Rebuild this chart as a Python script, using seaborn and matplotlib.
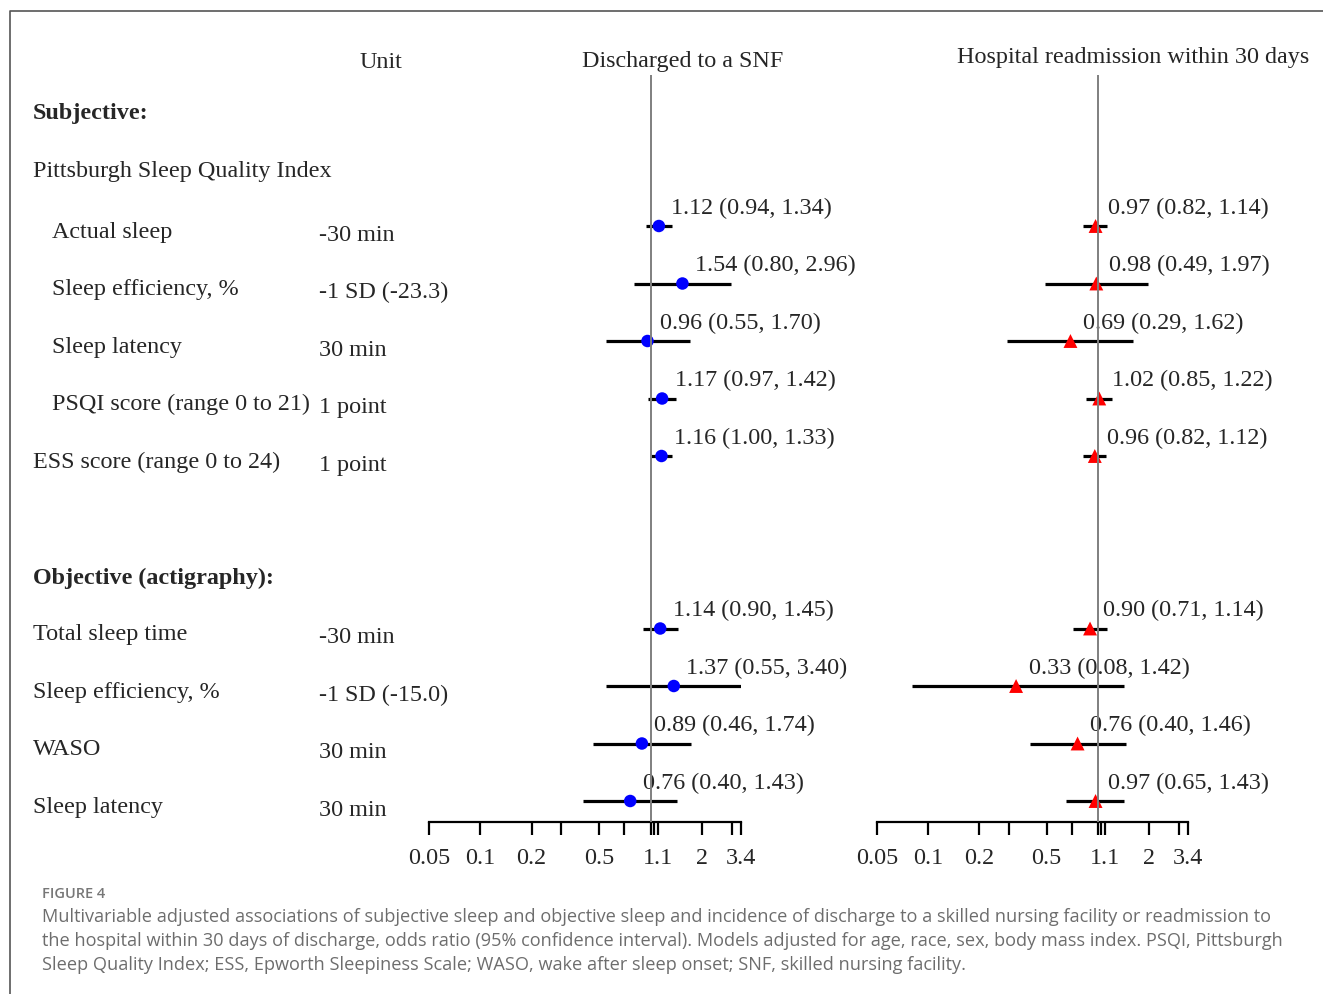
import numpy as np
import pandas as pd
import matplotlib.pyplot as plt
import seaborn as sns
from matplotlib.lines import Line2D
from matplotlib import transforms

# rijen (y = rijnummer), labels en eenheden
labels = ["Actual sleep", "Sleep efficiency, %", "Sleep latency",
          "PSQI score (range 0 to 21)", "ESS score (range 0 to 24)",
          "Total sleep time", "Sleep efficiency, %", "WASO", "Sleep latency"]
units = ["-30 min", "-1 SD (-23.3)", "30 min", "1 point", "1 point",
         "-30 min", "-1 SD (-15.0)", "30 min", "30 min"]
indented = [True, True, True, True, False, False, False, False, False]
rows = [2, 3, 4, 5, 6, 9, 10, 11, 12]

# Discharged to a SNF
snf_or = [1.12, 1.54, 0.96, 1.17, 1.16, 1.14, 1.37, 0.89, 0.76]
snf_lo = [0.94, 0.80, 0.55, 0.97, 1.00, 0.90, 0.55, 0.46, 0.40]
snf_hi = [1.34, 2.96, 1.70, 1.42, 1.33, 1.45, 3.40, 1.74, 1.43]

# Hospital readmission within 30 days
readm_or = [0.97, 0.98, 0.69, 1.02, 0.96, 0.90, 0.33, 0.76, 0.97]
readm_lo = [0.82, 0.49, 0.29, 0.85, 0.82, 0.71, 0.08, 0.40, 0.65]
readm_hi = [1.14, 1.97, 1.62, 1.22, 1.12, 1.14, 1.42, 1.46, 1.43]

tick_vals = [0.05, 0.1, 0.2, 0.3, 0.5, 0.7, 1, 1.05, 1.1, 2, 3, 3.4]
tick_labels = ["0.05", "0.1", "0.2", "", "0.5", "", "", "", "1.1", "2", "", "3.4"]

sns.set_style("white")
plt.rcParams['font.family'] = ['Liberation Serif', 'DejaVu Serif']
FS = 17.4

W, H = 1323, 995
fig = plt.figure(figsize=(W / 100, H / 100), dpi=100)

def fx(px):
    return px / W

def fy(py):
    return 1 - py / H

# y in pixels: rij r -> 112 + 57.5 * r ; as van 76 tot 823
y_top = (76 - 112) / 57.5
y_bot = (823 - 112) / 57.5

panels = [
    (429, 741, snf_or, snf_lo, snf_hi, "o", "blue", 9),
    (877, 1188, readm_or, readm_lo, readm_hi, "^", "red", 10),
]
axes = []
for x0, x1, est, lo, hi, mk, col, ms in panels:
    ax = fig.add_axes([fx(x0), fy(823), fx(x1 - x0), fy(76) - fy(823)])
    ax.set_xscale("log")
    ax.set_xlim(0.05, 3.4)
    ax.set_ylim(y_bot, y_top)
    df = pd.DataFrame({"est": est, "lo": lo, "hi": hi, "row": rows})
    ax.axvline(1, color="#7f7f7f", lw=1.4, zorder=4)
    ax.hlines(df["row"], df["lo"], df["hi"], color="black", lw=2.3, zorder=2)
    sns.scatterplot(data=df, x="est", y="row", marker=mk, color=col, s=ms ** 2,
                    edgecolor="none", ax=ax, zorder=3, clip_on=False)
    for _, r in df.iterrows():
        ax.annotate(f"{r['est']:.2f} ({r['lo']:.2f}, {r['hi']:.2f})", (r["est"], r["row"]),
                    xytext=(9, 13.5), textcoords="offset points", fontsize=FS,
                    va="center", ha="left", zorder=1)
    for s in ["top", "right", "left"]:
        ax.spines[s].set_visible(False)
    ax.spines["bottom"].set_color("black")
    ax.spines["bottom"].set_linewidth(1.6)
    ax.xaxis.set_minor_locator(plt.NullLocator())
    ax.set_xticks(tick_vals)
    ax.set_xticklabels(tick_labels, fontsize=FS)
    ax.tick_params(axis="x", direction="out", length=9, width=1.6, color="black", pad=9,
                   bottom=True)
    ax.set_yticks([])
    ax.set_xlabel("")
    ax.set_ylabel("")
    ax.patch.set_alpha(0)
    axes.append(ax)

# tekstkolommen links
tr = transforms.blended_transform_factory(fig.transFigure, axes[0].transData)
fig.text(fx(33), fy(114), "Subjective:", fontsize=FS, fontweight="bold", va="center")
fig.text(fx(33), fy(172), "Pittsburgh Sleep Quality Index", fontsize=FS, va="center")
fig.text(fx(33), fy(578), "Objective (actigraphy):", fontsize=FS, fontweight="bold", va="center")
for lab, unit, ind, r in zip(labels, units, indented, rows):
    fig.text(fx(52 if ind else 33), 0, lab, fontsize=FS, va="center", transform=tr).set_y(r + 0.09)
    fig.text(fx(319), 0, unit, fontsize=FS, va="center", transform=tr).set_y(r + 0.14)

# kolomkoppen
fig.text(fx(381), fy(62), "Unit", fontsize=FS, ha="center", va="center")
fig.text(fx(683), fy(62), "Discharged to a SNF", fontsize=FS, ha="center", va="center")
fig.text(fx(1133), fy(58), "Hospital readmission within 30 days", fontsize=FS, ha="center", va="center")

# kader
fig.add_artist(Line2D([fx(10), fx(10), fx(1323)], [0, fy(12), fy(12)],
                      transform=fig.transFigure, color="#555555", lw=1.2))

# onderschrift
cap_font = ['Open Sans', 'DejaVu Sans']
fig.text(fx(42), fy(894), "FIGURE 4", fontsize=10.5, color="#777777", fontweight="semibold",
         va="center", family=cap_font)
caption = [
    "Multivariable adjusted associations of subjective sleep and objective sleep and incidence of discharge to a skilled nursing facility or readmission to",
    "the hospital within 30 days of discharge, odds ratio (95% confidence interval). Models adjusted for age, race, sex, body mass index. PSQI, Pittsburgh",
    "Sleep Quality Index; ESS, Epworth Sleepiness Scale; WASO, wake after sleep onset; SNF, skilled nursing facility.",
]
for i, line in enumerate(caption):
    fig.text(fx(42), fy(917 + 24 * i), line, fontsize=13.1, color="#6d6d6d", va="center",
             family=cap_font)

fig.savefig("out.png", dpi=100)
